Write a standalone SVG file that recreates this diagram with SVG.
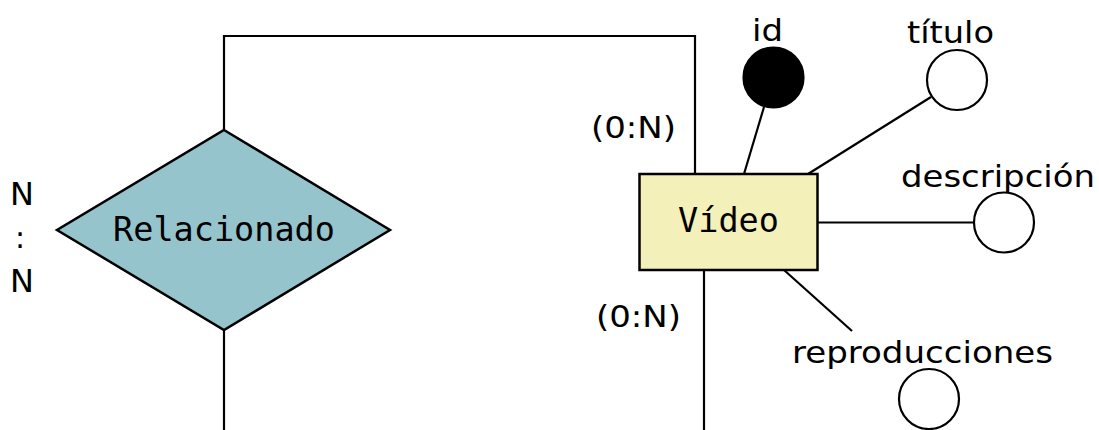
<svg xmlns="http://www.w3.org/2000/svg" width="1099" height="430" viewBox="0 0 1099 430">
<style>
.ln{fill:none;stroke:#000;stroke-width:2.2}
.attr{fill:#fff;stroke:#000;stroke-width:2.2}
.key{fill:#000;stroke:#000;stroke-width:2.2}
.lbl{font-family:"DejaVu Sans",sans-serif;font-size:30px;fill:#000}
.mono{font-family:"DejaVu Sans Mono",monospace;font-size:33.5px;fill:#000;text-anchor:middle}
</style>
<rect width="1099" height="430" fill="#fff"/>
<g id="connectors">
<polyline class="ln" points="224,130 224,36 695,36 695,174"/>
<line class="ln" x1="224" y1="330" x2="224" y2="430"/>
<line class="ln" x1="704" y1="270" x2="704" y2="430"/>
<line class="ln" x1="764" y1="107" x2="744" y2="174"/>
<line class="ln" x1="931" y1="97" x2="808" y2="174"/>
<line class="ln" x1="817" y1="222.5" x2="974" y2="222.5"/>
<line class="ln" x1="784" y1="270" x2="852" y2="331"/>
</g>
<g id="relacionado">
<polygon points="224,130 390,230 224,330 57,230" fill="#95c4cc" stroke="#000" stroke-width="2.5"/>
<text class="mono" x="224" y="241">Relacionado</text>
</g>
<g id="cardinalidad">
<text class="lbl" x="10" y="205" style="font-size:32px">N</text>
<text class="lbl" x="15" y="248">:</text>
<text class="lbl" x="10" y="292" style="font-size:32px">N</text>
</g>
<g id="video">
<rect x="639.5" y="174" width="178" height="96" fill="#f4f0b9" stroke="#000" stroke-width="2.5"/>
<text class="mono" x="728.5" y="232">Vídeo</text>
</g>
<g id="card-top"><text class="lbl" x="591" y="138" textLength="85" lengthAdjust="spacingAndGlyphs">(0:N)</text></g>
<g id="card-bottom"><text class="lbl" x="596" y="327" textLength="85" lengthAdjust="spacingAndGlyphs">(0:N)</text></g>
<g id="attr-id">
<circle class="key" cx="773.5" cy="77.5" r="30"/>
<text class="lbl" x="752" y="41" textLength="31" lengthAdjust="spacingAndGlyphs">id</text>
</g>
<g id="attr-titulo">
<circle class="attr" cx="957" cy="80" r="30"/>
<text class="lbl" x="907" y="43" textLength="87" lengthAdjust="spacingAndGlyphs">título</text>
</g>
<g id="attr-descripcion">
<circle class="attr" cx="1004" cy="222.5" r="30"/>
<text class="lbl" x="901" y="187" textLength="194" lengthAdjust="spacingAndGlyphs">descripción</text>
</g>
<g id="attr-reproducciones">
<circle class="attr" cx="929" cy="399" r="30"/>
<text class="lbl" x="792" y="363" textLength="261" lengthAdjust="spacingAndGlyphs">reproducciones</text>
</g>
</svg>
